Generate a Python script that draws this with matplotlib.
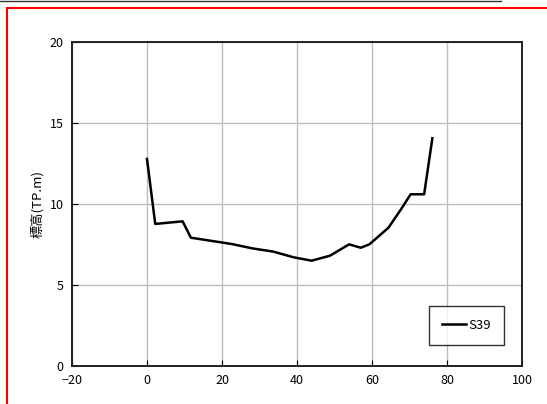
import matplotlib
matplotlib.use("Agg")
import matplotlib.pyplot as plt
from matplotlib.lines import Line2D
from matplotlib.patches import Rectangle

plt.rcParams['font.family'] = ['Noto Sans CJK JP', 'DejaVu Sans']

# -----------------------------
# Data
# -----------------------------
distance = [0.0, 2.2, 9.5, 11.7, 22.6, 28.1, 33.7, 39.1, 43.9, 48.8,
            53.9, 57.0, 59.3, 64.4, 67.9, 70.3, 73.9, 76.1]
elevation = [12.78, 8.77, 8.93, 7.92, 7.53, 7.26, 7.06, 6.71, 6.50, 6.81,
             7.51, 7.30, 7.51, 8.54, 9.73, 10.6, 10.6, 14.06]
series_name = "S39"
x_ticks = [-20, 0, 20, 40, 60, 80, 100]
y_ticks = [0, 5, 10, 15, 20]

# -----------------------------
# Plot
# -----------------------------
fig = plt.figure(figsize=(5.47, 4.04), dpi=100)
ax = fig.add_axes([72 / 547, 38 / 404, 450 / 547, 324 / 404])

ax.plot(distance, elevation, color="black", linewidth=1.8, label=series_name)

ax.set_xlim(-20, 100)
ax.set_ylim(0, 20)
ax.set_xticks(x_ticks)
ax.set_yticks(y_ticks)
ax.grid(True, color="#bdbdbd", linewidth=1.0)
ax.set_axisbelow(True)
ax.tick_params(direction="in", length=4, labelsize=9, pad=6)
for s in ax.spines.values():
    s.set_linewidth(1.4)
    s.set_color("#222222")

ax.set_ylabel("標高(TP.m)", fontsize=9.5, labelpad=4)

leg = ax.legend(loc="lower right", bbox_to_anchor=(0.96, 0.065),
                fontsize=9.5, frameon=True, fancybox=False,
                handlelength=1.8, handletextpad=0.2,
                borderpad=1.0, borderaxespad=0)
leg.get_frame().set_edgecolor("black")
leg.get_frame().set_linewidth(1.0)

# page decorations: red frame and dark line at top
fig.patches.append(Rectangle((7 / 547, -0.05), 1.0, (404 - 8) / 404 + 0.05,
                             transform=fig.transFigure, fill=False,
                             edgecolor="red", linewidth=1.5))
fig.lines.append(Line2D([0, 501 / 547], [403.5 / 404, 403.5 / 404],
                        transform=fig.transFigure, color="#333333",
                        linewidth=1.0))

plt.savefig("out.png", dpi=100)
